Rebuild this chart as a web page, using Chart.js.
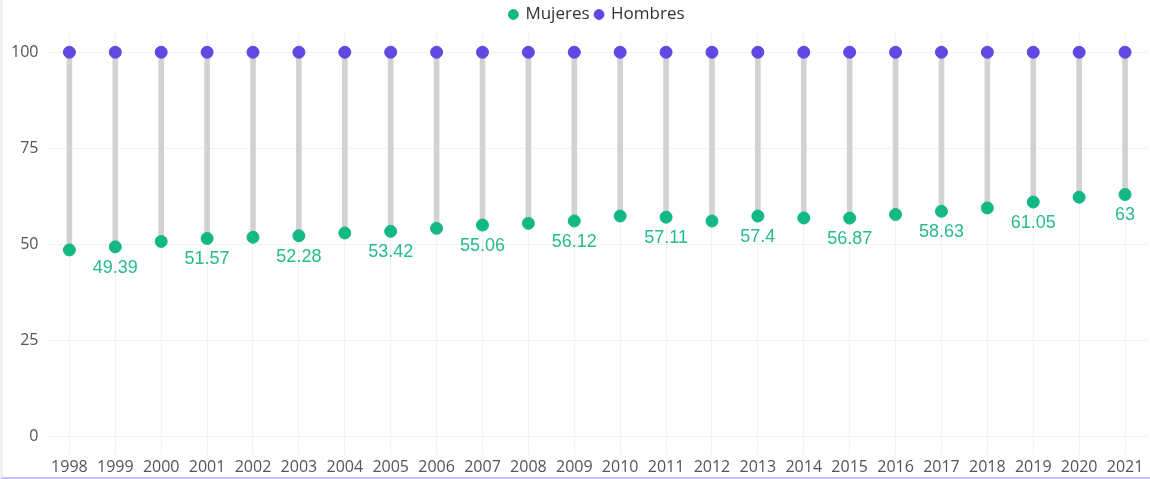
<!DOCTYPE html>
<html>
<head>
<meta charset="utf-8">
<script src="https://cdn.jsdelivr.net/npm/chart.js@4"></script>
<style>
  html, body { margin: 0; padding: 0; background: #fff; }
  #wrap {
    width: 1150px; height: 479px; box-sizing: border-box;
    border-left: 3px solid #f0f0f0; border-bottom: 2px solid #c9bdf7;
    position: relative; overflow: hidden;
  }
  #chart { display: block; }
</style>
</head>
<body>
<div id="wrap"><canvas id="chart"></canvas></div>
<script>
// Years on the x axis
const years = ['1998', '1999', '2000', '2001', '2002', '2003', '2004', '2005', '2006', '2007', '2008', '2009',
               '2010', '2011', '2012', '2013', '2014', '2015', '2016', '2017', '2018', '2019', '2020', '2021'];
// Mujeres values (odd years printed)
const mujeres = [48.6, 49.39, 50.8, 51.57, 51.9, 52.28, 53.0, 53.42, 54.2, 55.06, 55.5, 56.12,
                 57.4, 57.11, 56.1, 57.4, 56.9, 56.87, 57.8, 58.63, 59.5, 61.05, 62.3, 63];
// Hombres is the reference, always 100
const hombres = [100, 100, 100, 100, 100, 100, 100, 100, 100, 100, 100, 100,
                 100, 100, 100, 100, 100, 100, 100, 100, 100, 100, 100, 100];
const yTicks = [0, 25, 50, 75, 100];

const green = '#13b884';
const purple = '#6347e2';
const gridColor = '#f2f2f2';

// gray stick from women value up to men value
const gaps = mujeres.map((m, i) => [m, hombres[i]]);

// draw value labels under every other green dot
const valueLabels = {
    id: 'valueLabels',
    afterDatasetsDraw(chart) {
        const meta = chart.getDatasetMeta(1);
        const ctx = chart.ctx;
        ctx.save();
        ctx.font = '18px "Liberation Sans", Arial, sans-serif';
        ctx.fillStyle = '#25bb8b';
        ctx.textAlign = 'center';
        ctx.textBaseline = 'middle';
        meta.data.forEach((pt, i) => {
            if (i % 2 === 1) ctx.fillText(String(mujeres[i]), pt.x, pt.y + 21);
        });
        ctx.restore();
    }
};

// center the legend over the plot area instead of the whole canvas
const legendOverPlot = {
    id: 'legendOverPlot',
    afterLayout(chart) {
        const lg = chart.legend, ca = chart.chartArea;
        const dx = (ca.left + ca.right) / 2 - (lg.left + lg.right) / 2;
        lg.left += dx;
        lg.right += dx;
    }
};

// a bit wider than the window, the right strip is clipped
const canvas = document.getElementById('chart');
canvas.width = 1152;
canvas.height = 477;

new Chart(canvas, {
    data: {
        labels: years,
        datasets: [
            {
                type: 'bar',
                label: 'gap',
                data: gaps,
                backgroundColor: '#d2d2d2',
                barThickness: 5,
                order: 3
            },
            {
                type: 'line',
                label: 'Mujeres',
                data: mujeres,
                showLine: false,
                pointRadius: 6,
                pointHoverRadius: 6,
                pointBackgroundColor: green,
                pointBorderColor: green,
                backgroundColor: green,
                borderColor: green,
                order: 1
            },
            {
                type: 'line',
                label: 'Hombres',
                data: hombres,
                showLine: false,
                pointRadius: 6,
                pointHoverRadius: 6,
                pointBackgroundColor: purple,
                pointBorderColor: purple,
                backgroundColor: purple,
                borderColor: purple,
                order: 2
            }
        ]
    },
    options: {
        responsive: false,
        animation: false,
        layout: { padding: { left: 0, right: 0, top: 0, bottom: -3 } },
        plugins: {
            tooltip: { enabled: false },
            legend: {
                position: 'top',
                labels: {
                    filter: (item) => item.text !== 'gap',
                    usePointStyle: true,
                    pointStyle: 'circle',
                    boxWidth: 7,
                    boxHeight: 7,
                    padding: 6,
                    color: '#333',
                    font: { family: '"Open Sans", sans-serif', size: 17 }
                }
            }
        },
        scales: {
            x: {
                offset: true,
                grid: { offset: false, color: gridColor, tickColor: gridColor, drawTicks: true, tickLength: 18 },
                border: { display: false },
                ticks: {
                    color: '#555',
                    maxRotation: 0,
                    autoSkip: false,
                    padding: 3,
                    font: { family: '"Open Sans", sans-serif', size: 16 }
                }
            },
            y: {
                min: 0,
                max: 105,
                afterBuildTicks: (axis) => { axis.ticks = yTicks.map(v => ({ value: v })); },
                grid: { color: gridColor, drawTicks: false },
                border: { display: false },
                ticks: {
                    color: '#555',
                    padding: 8,
                    font: { family: '"Open Sans", sans-serif', size: 16 }
                }
            }
        }
    },
    plugins: [valueLabels, legendOverPlot]
});
</script>
</body>
</html>
